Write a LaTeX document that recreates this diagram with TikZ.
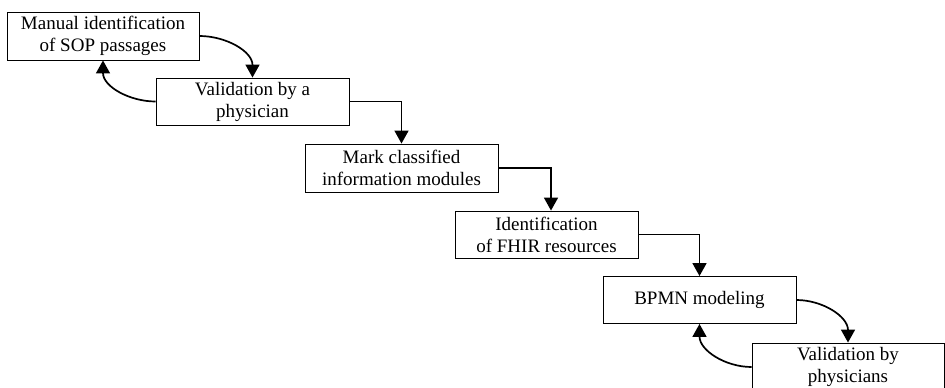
\documentclass[tikz,border=0pt]{standalone}
\usepackage{fontspec}
\setmainfont{Liberation Serif}
\usetikzlibrary{arrows.meta}

\tikzset{
  procbox/.style={draw, line width=0.9pt, fill=white, align=center, inner sep=0pt,
    minimum width=193pt, minimum height=47pt, font=\fontsize{19}{22}\selectfont},
  link/.style={line width=1.7pt, -{Triangle[width=14pt,length=13pt]}}
}

\begin{document}
\begin{tikzpicture}[x=1pt,y=-1pt]
\useasboundingbox (0,0) rectangle (945,388);
\node[procbox, minimum width=192pt, minimum height=48pt] (sop) at (103,36) {Manual identification\\of SOP passages};
\node[procbox] (val) at (252.5,101.5) {Validation by a\\physician};
\node[procbox, minimum height=48pt] (mark) at (401.5,168) {Mark classified\\information modules};
\node[procbox, minimum width=183pt] (fhir) at (546.5,234.5) {Identification\\of FHIR resources};
\node[procbox] (bpmn) at (699.5,300) {BPMN modeling};
\node[procbox, minimum width=192pt, minimum height=48pt] (valp) at (848,367) {Validation by\\physicians};

\draw[link] (sop.east) to[out=0,in=90] (val.north);
\draw[link] (val.west) to[out=180,in=-90] (sop.south);
\draw[link] (val.east) -| (mark.north);
\draw[link] (mark.east) -| ([xshift=4.5pt]fhir.north);
\draw[link] (fhir.east) -| (bpmn.north);
\draw[link] (bpmn.east) to[out=0,in=90] (valp.north);
\draw[link] (valp.west) to[out=180,in=-90] (bpmn.south);
\end{tikzpicture}
\end{document}
